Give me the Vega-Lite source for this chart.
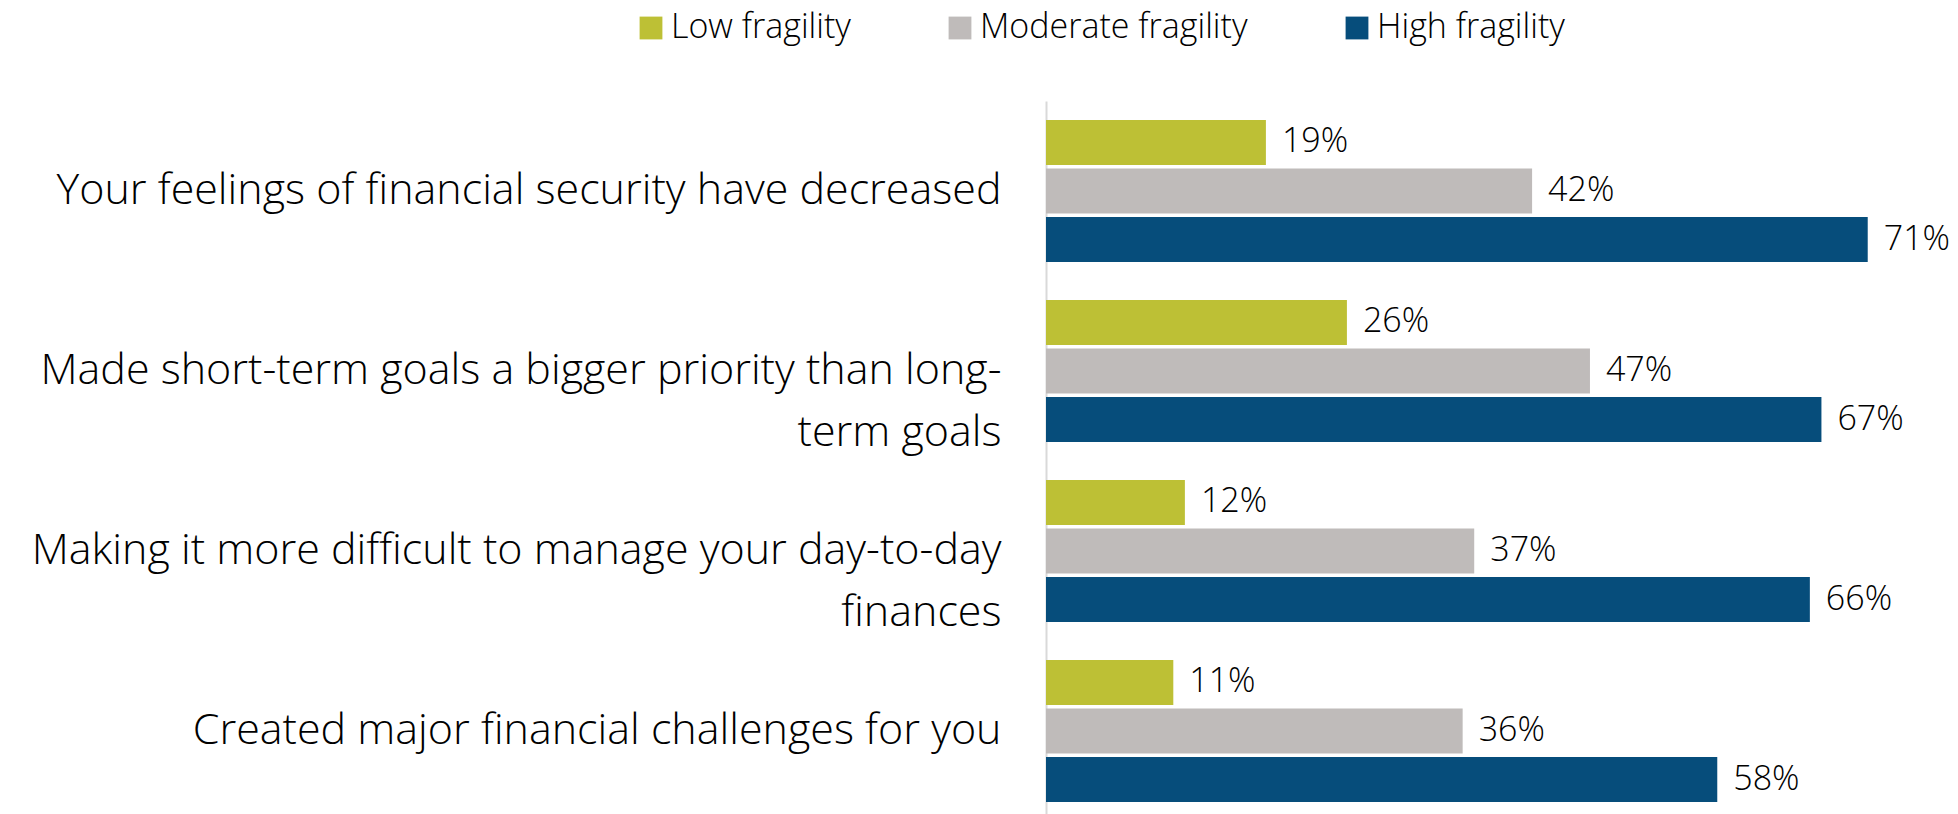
{
  "$schema": "https://vega.github.io/schema/vega-lite/v6.json",
  "width": 912,
  "height": 720,
  "autosize": {"type": "none"},
  "padding": {"left": 1046, "top": 101, "right": 0, "bottom": 0},
  "background": "white",
  "config": {
    "view": {"stroke": null},
    "font": "Open Sans"
  },
  "data": {
    "values": [
      {"q": "Your feelings of financial security have decreased", "g": "Low fragility", "v": 0.19},
      {"q": "Your feelings of financial security have decreased", "g": "Moderate fragility", "v": 0.42},
      {"q": "Your feelings of financial security have decreased", "g": "High fragility", "v": 0.71},
      {"q": "Made short-term goals a bigger priority than long-|term goals", "g": "Low fragility", "v": 0.26},
      {"q": "Made short-term goals a bigger priority than long-|term goals", "g": "Moderate fragility", "v": 0.47},
      {"q": "Made short-term goals a bigger priority than long-|term goals", "g": "High fragility", "v": 0.67},
      {"q": "Making it more difficult to manage your day-to-day|finances", "g": "Low fragility", "v": 0.12},
      {"q": "Making it more difficult to manage your day-to-day|finances", "g": "Moderate fragility", "v": 0.37},
      {"q": "Making it more difficult to manage your day-to-day|finances", "g": "High fragility", "v": 0.66},
      {"q": "Created major financial challenges for you", "g": "Low fragility", "v": 0.11},
      {"q": "Created major financial challenges for you", "g": "Moderate fragility", "v": 0.36},
      {"q": "Created major financial challenges for you", "g": "High fragility", "v": 0.58}
    ]
  },
  "encoding": {
    "y": {
      "field": "q", "type": "nominal", "sort": null,
      "scale": {"paddingInner": 0, "paddingOuter": 0},
      "axis": {
        "title": null, "ticks": false, "domain": true, "domainColor": "#d9d9d9", "domainWidth": 2,
        "labelFont": "Open Sans", "labelFontWeight": 300, "labelFontSize": 43, "labelColor": "#000000",
        "labelPadding": 45, "labelLimit": 1100, "labelLineHeight": 62,
        "labelExpr": "split(datum.label, '|')"
      }
    },
    "yOffset": {
      "field": "g", "type": "nominal",
      "sort": ["Low fragility", "Moderate fragility", "High fragility"],
      "scale": {"paddingInner": 0.072, "paddingOuter": 0.39}
    },
    "x": {
      "field": "v", "type": "quantitative",
      "scale": {"domain": [0, 0.788]},
      "axis": null
    }
  },
  "layer": [
    {
      "mark": {"type": "bar"},
      "encoding": {
        "color": {
          "field": "g", "type": "nominal",
          "sort": ["Low fragility", "Moderate fragility", "High fragility"],
          "scale": {"domain": ["Low fragility", "Moderate fragility", "High fragility"], "range": ["#bdc035", "#bfbbba", "#064d7b"]},
          "legend": {
            "title": null, "orient": "none", "direction": "horizontal",
            "legendX": -412, "legendY": -90,
            "symbolType": "square", "symbolSize": 520, "symbolStrokeWidth": 0,
            "labelFont": "Open Sans", "labelFontWeight": 300, "labelFontSize": 34, "labelColor": "#000000",
            "labelOffset": 3, "columnPadding": 92, "labelLimit": 400
          }
        }
      }
    },
    {
      "mark": {"type": "text", "align": "left", "baseline": "middle", "dx": 16, "font": "Open Sans", "fontWeight": 300, "fontSize": 34, "color": "#000000"},
      "encoding": {
        "text": {"field": "v", "type": "quantitative", "format": ".0%"}
      }
    }
  ]
}
